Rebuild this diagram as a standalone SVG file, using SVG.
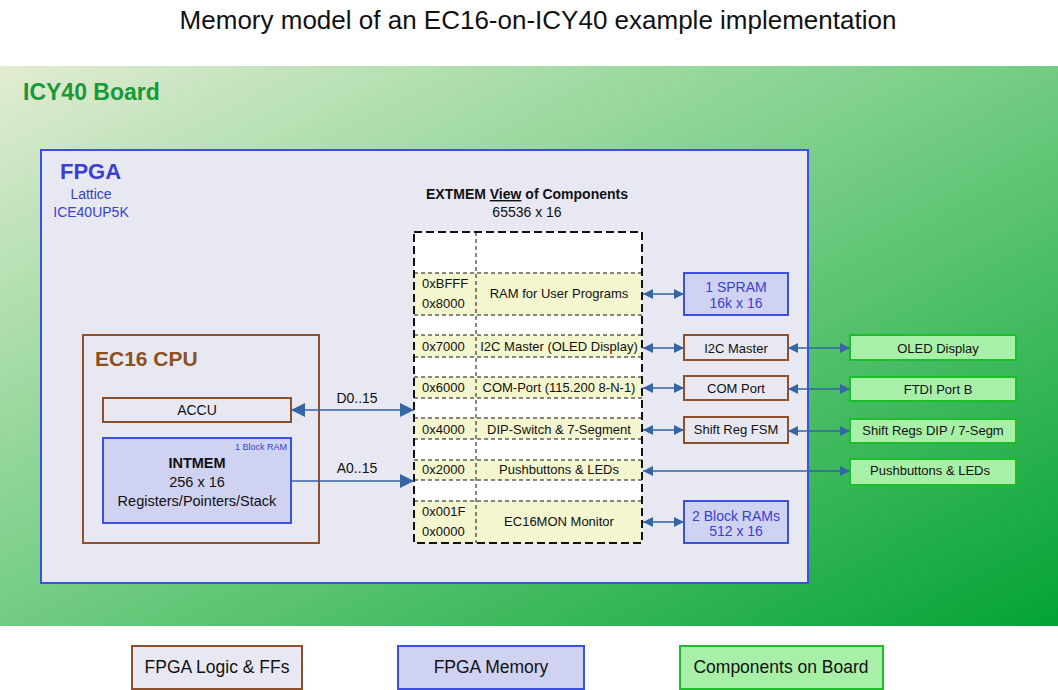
<svg xmlns="http://www.w3.org/2000/svg" width="1058" height="690" viewBox="0 0 1058 690">
<defs>
<linearGradient id="board" x1="0" y1="0" x2="1" y2="1">
<stop offset="0" stop-color="#e2ecd2"/>
<stop offset="0.45" stop-color="#7dd08a"/>
<stop offset="1" stop-color="#03a334"/>
</linearGradient>
<marker id="ah" viewBox="0 0 10 10" refX="10" refY="5" markerWidth="10" markerHeight="10" markerUnits="userSpaceOnUse" orient="auto-start-reverse">
<path d="M0,0 L10,5 L0,10 z" fill="#3465a4"/>
</marker>
<marker id="ahb" viewBox="0 0 14 14" refX="14" refY="7" markerWidth="14" markerHeight="14" markerUnits="userSpaceOnUse" orient="auto-start-reverse">
<path d="M0,0 L14,7 L0,14 z" fill="#3465a4"/>
</marker>
</defs>
<style>
text{font-family:"Liberation Sans",Arial,sans-serif;fill:#111}
.logic{fill:#e8e8f3;stroke:#8e4f2b;stroke-width:2}
.mem{fill:#d0d2f2;stroke:#3b4fe0;stroke-width:2}
.comp{fill:#a8f0a8;stroke:#1cbf2a;stroke-width:2}
.row{fill:#f4f6cf}
.thin{stroke:#111;stroke-width:1;stroke-dasharray:4 3;fill:none}
.c{text-anchor:middle}
.t13{font-size:13px}
.t14{font-size:14px}
.blue{fill:#3a3fd0}
.conn{stroke:#3465a4;stroke-width:1.5;fill:none}
</style>
<rect width="1058" height="690" fill="#fff"/>
<text x="538" y="29" class="c" style="font-size:26px">Memory model of an EC16-on-ICY40 example implementation</text>

<g id="board-area">
<rect x="0" y="66" width="1058" height="560" fill="url(#board)"/>
<text x="23" y="100" style="font-size:23px;font-weight:bold;fill:#17983a">ICY40 Board</text>
</g>

<g id="fpga">
<rect x="41" y="150" width="767" height="433" fill="#e8e8f3" stroke="#3b4fe0" stroke-width="2"/>
<text x="60" y="179" style="font-size:22px;font-weight:bold;fill:#3a3fd0">FPGA</text>
<text x="91" y="199" class="c t14 blue">Lattice</text>
<text x="91" y="217" class="c t14 blue">ICE40UP5K</text>
</g>

<g id="cpu">
<rect x="83" y="335" width="236" height="208" class="logic"/>
<text x="95" y="366" style="font-size:21px;font-weight:bold;fill:#8e4f1e">EC16 CPU</text>
</g>
<g id="accu">
<rect x="103" y="398" width="188" height="24" class="logic"/>
<text x="197" y="415" class="c t14">ACCU</text>
</g>
<g id="intmem">
<rect x="103" y="438" width="188" height="85" class="mem"/>
<text x="287" y="450" style="font-size:9px;text-anchor:end;fill:#3a3fd0">1 Block RAM</text>
<text x="197" y="468" class="c" style="font-weight:bold;font-size:14.5px">INTMEM</text>
<text x="197" y="487" class="c" style="font-size:14.5px">256 x 16</text>
<text x="197" y="506" class="c" style="font-size:14.5px">Registers/Pointers/Stack</text>
</g>

<g id="extmem">
<text x="527" y="199" class="c t14" style="font-weight:bold">EXTMEM <tspan text-decoration="underline">View</tspan> of Components</text>
<text x="527" y="217" class="c t14">65536 x 16</text>
<rect x="414" y="232" width="228" height="311" fill="#fff"/>
<rect x="414" y="273" width="228" height="42" class="row"/>
<rect x="414" y="335" width="228" height="22" class="row"/>
<rect x="414" y="377" width="228" height="21" class="row"/>
<rect x="414" y="418" width="228" height="21" class="row"/>
<rect x="414" y="460" width="228" height="20" class="row"/>
<rect x="414" y="501" width="228" height="42" class="row"/>
<path class="thin" d="M414,273H642M414,315H642M414,335H642M414,357H642M414,377H642M414,398H642M414,418H642M414,439H642M414,460H642M414,480H642M414,501H642M476,232V543"/>
<rect x="414" y="232" width="228" height="311" fill="none" stroke="#111" stroke-width="2" stroke-dasharray="8 4"/>
<text x="422" y="288" class="t13">0xBFFF</text>
<text x="422" y="308" class="t13">0x8000</text>
<text x="559" y="298" class="c t13">RAM for User Programs</text>
<text x="422" y="351" class="t13">0x7000</text>
<text x="559" y="351" class="c t13">I2C Master (OLED Display)</text>
<text x="422" y="392" class="t13">0x6000</text>
<text x="559" y="392" class="c t13">COM-Port (115.200 8-N-1)</text>
<text x="422" y="434" class="t13">0x4000</text>
<text x="559" y="434" class="c t13">DIP-Switch &amp; 7-Segment</text>
<text x="422" y="474" class="t13">0x2000</text>
<text x="559" y="474" class="c t13">Pushbuttons &amp; LEDs</text>
<text x="422" y="516" class="t13">0x001F</text>
<text x="422" y="536" class="t13">0x0000</text>
<text x="559" y="526" class="c t13">EC16MON Monitor</text>
</g>

<g id="spram">
<rect x="684" y="273" width="104" height="42" class="mem"/>
<text x="736" y="292" class="c t14 blue">1 SPRAM</text>
<text x="736" y="308" class="c t14 blue">16k x 16</text>
</g>
<g id="i2c">
<rect x="684" y="335" width="104" height="25" class="logic"/>
<text x="736" y="353" class="c t13">I2C Master</text>
</g>
<g id="com">
<rect x="684" y="376" width="104" height="24" class="logic"/>
<text x="736" y="393" class="c t13">COM Port</text>
</g>
<g id="shiftfsm">
<rect x="684" y="417" width="104" height="26" class="logic"/>
<text x="736" y="434" class="c t13">Shift Reg FSM</text>
</g>
<g id="blockrams">
<rect x="684" y="501" width="104" height="42" class="mem"/>
<text x="736" y="521" class="c t14 blue">2 Block RAMs</text>
<text x="736" y="536" class="c t14 blue">512 x 16</text>
</g>

<g id="oled">
<rect x="850" y="335" width="166" height="25" class="comp"/>
<text x="938" y="353" class="c t13">OLED Display</text>
</g>
<g id="ftdi">
<rect x="850" y="377" width="166" height="24" class="comp"/>
<text x="938" y="394" class="c t13">FTDI Port B</text>
</g>
<g id="shiftregs">
<rect x="850" y="419" width="166" height="24" class="comp"/>
<text x="933" y="435" class="c t13">Shift Regs DIP / 7-Segm</text>
</g>
<g id="pushbuttons">
<rect x="850" y="459" width="166" height="26" class="comp"/>
<text x="930" y="475" class="c t13">Pushbuttons &amp; LEDs</text>
</g>

<g id="connectors">
<line x1="291" y1="410" x2="414" y2="410" class="conn" stroke-width="2" marker-start="url(#ahb)" marker-end="url(#ahb)"/>
<text x="357" y="403" class="c t14">D0..15</text>
<line x1="291" y1="481" x2="414" y2="481" class="conn" stroke-width="2" marker-end="url(#ahb)"/>
<text x="357" y="473" class="c t14">A0..15</text>
<line x1="643" y1="294" x2="684" y2="294" class="conn" marker-start="url(#ah)" marker-end="url(#ah)"/>
<line x1="643" y1="348" x2="684" y2="348" class="conn" marker-start="url(#ah)" marker-end="url(#ah)"/>
<line x1="643" y1="388" x2="684" y2="388" class="conn" marker-start="url(#ah)" marker-end="url(#ah)"/>
<line x1="643" y1="430" x2="684" y2="430" class="conn" marker-start="url(#ah)" marker-end="url(#ah)"/>
<line x1="643" y1="522" x2="684" y2="522" class="conn" marker-start="url(#ah)" marker-end="url(#ah)"/>
<line x1="788" y1="348" x2="850" y2="348" class="conn" marker-start="url(#ah)" marker-end="url(#ah)"/>
<line x1="788" y1="389" x2="850" y2="389" class="conn" marker-start="url(#ah)" marker-end="url(#ah)"/>
<line x1="788" y1="431" x2="850" y2="431" class="conn" marker-start="url(#ah)" marker-end="url(#ah)"/>
<line x1="643" y1="471" x2="850" y2="471" class="conn" marker-start="url(#ah)" marker-end="url(#ah)"/>
</g>

<g id="legend-logic">
<rect x="132" y="646" width="170" height="43" class="logic"/>
<text x="217" y="673" class="c" style="font-size:17.5px">FPGA Logic &amp; FFs</text>
</g>
<g id="legend-memory">
<rect x="398" y="646" width="186" height="43" class="mem"/>
<text x="491" y="673" class="c" style="font-size:17.5px">FPGA Memory</text>
</g>
<g id="legend-components">
<rect x="680" y="646" width="203" height="43" class="comp"/>
<text x="781" y="673" class="c" style="font-size:17.5px">Components on Board</text>
</g>
</svg>
